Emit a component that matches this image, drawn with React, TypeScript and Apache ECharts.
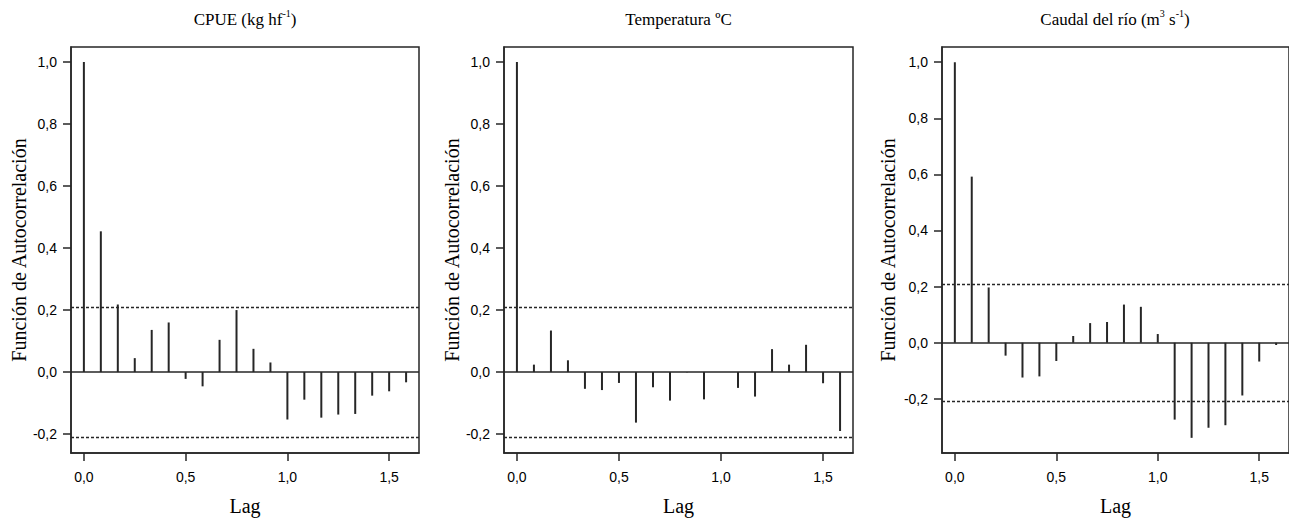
import React, { useEffect, useRef } from "react";
import * as echarts from "echarts";

const LAGS = [0, 0.0833, 0.1667, 0.25, 0.3333, 0.4167, 0.5, 0.5833, 0.6667, 0.75, 0.8333, 0.9167, 1.0, 1.0833, 1.1667, 1.25, 1.3333, 1.4167, 1.5, 1.5833];

const ACF_CPUE = [1.0, 0.454, 0.218, 0.045, 0.136, 0.16, -0.022, -0.046, 0.104, 0.2, 0.075, 0.031, -0.153, -0.089, -0.147, -0.137, -0.135, -0.076, -0.062, -0.033];
const ACF_TEMP = [1.0, 0.024, 0.134, 0.038, -0.054, -0.058, -0.035, -0.163, -0.049, -0.092, -0.001, -0.088, 0.0, -0.051, -0.079, 0.074, 0.024, 0.088, -0.036, -0.19];
const ACF_CAUDAL = [1.0, 0.592, 0.197, -0.046, -0.124, -0.12, -0.065, 0.024, 0.07, 0.074, 0.136, 0.128, 0.031, -0.274, -0.339, -0.303, -0.294, -0.188, -0.067, -0.008];

const CONF = 0.2125;
const X_TICKS = [0, 0.5, 1.0, 1.5];
const Y_TICKS = [-0.2, 0, 0.2, 0.4, 0.6, 0.8, 1.0];

const PANELS = [
  { values: ACF_CPUE, left: 71, width: 348, yMin: -0.261, yMax: 1.0485, title: ["CPUE (kg hf", "-1", ")"], nameGap: 42 },
  { values: ACF_TEMP, left: 504, width: 349, yMin: -0.261, yMax: 1.0485, title: ["Temperatura ºC"], nameGap: 40 },
  { values: ACF_CAUDAL, left: 942, width: 350, yMin: -0.393, yMax: 1.054, title: ["Caudal del río (m", "3", " s", "-1", ")"], nameGap: 44 },
];

const TOP = 47;
const HEIGHT = 407;
const INK = "#262626";
const SANS = "'Liberation Sans', Arial, sans-serif";
const SERIF = "'Liberation Serif', 'Times New Roman', serif";

const fmt = (v: number) => (Math.abs(v) < 1e-9 ? 0 : v).toFixed(1).replace(".", ",");

export default function App() {
  const ref = useRef<HTMLDivElement>(null);
  useEffect(() => {
    if (!ref.current) return;
    const chart = echarts.init(ref.current, undefined, { renderer: "svg" });

    const grids: any[] = [];
    const xAxes: any[] = [];
    const yAxes: any[] = [];
    const series: any[] = [];
    const graphics: any[] = [];

    PANELS.forEach((p, i) => {
      grids.push({
        left: p.left,
        top: TOP,
        width: p.width,
        height: HEIGHT,
        show: true,
        borderColor: INK,
        borderWidth: 1.5,
        backgroundColor: "transparent",
      });
      xAxes.push({
        type: "value",
        gridIndex: i,
        position: "bottom",
        min: -0.0633,
        max: 1.6467,
        name: "Lag",
        nameLocation: "middle",
        nameGap: 43,
        nameTextStyle: { fontFamily: SERIF, fontSize: 20, color: "#000" },
        axisLine: { show: true, onZero: false, lineStyle: { color: INK, width: 1.5 } },
        axisTick: { show: true, inside: false, length: 8, customValues: X_TICKS, lineStyle: { color: INK, width: 1.5 } },
        axisLabel: { customValues: X_TICKS, formatter: fmt, fontFamily: SANS, fontSize: 14, color: "#000", margin: 17 },
        splitLine: { show: false },
      });
      yAxes.push({
        type: "value",
        gridIndex: i,
        position: "left",
        min: p.yMin,
        max: p.yMax,
        name: "Función de Autocorrelación",
        nameLocation: "middle",
        nameGap: p.nameGap,
        nameTextStyle: { fontFamily: SERIF, fontSize: 20, color: "#000" },
        axisLine: { show: true, onZero: false, lineStyle: { color: INK, width: 1.5 } },
        axisTick: { show: true, inside: false, length: 8, customValues: Y_TICKS, lineStyle: { color: INK, width: 1.5 } },
        axisLabel: { customValues: Y_TICKS, formatter: fmt, fontFamily: SANS, fontSize: 14, color: "#000", margin: 14 },
        splitLine: { show: false },
      });
      series.push({
        type: "bar",
        xAxisIndex: i,
        yAxisIndex: i,
        barWidth: 2,
        itemStyle: { color: INK },
        data: LAGS.map((l, k) => [l, p.values[k]]),
        markLine: {
          silent: true,
          symbol: "none",
          label: { show: false },
          data: [
            { yAxis: 0, lineStyle: { type: "solid", color: INK, width: 1.5 } },
            { yAxis: CONF, lineStyle: { type: [3, 2], color: INK, width: 1.3 } },
            { yAxis: -CONF, lineStyle: { type: [3, 2], color: INK, width: 1.3 } },
          ],
        },
      });

      const parts = p.title;
      let text = "";
      parts.forEach((t, j) => {
        const isSup = j % 2 === 1;
        text += `{${isSup ? "s" : "a"}|${t}}`;
      });
      graphics.push({
        type: "text",
        x: p.left + p.width / 2 - (i === 2 ? 2 : 0),
        y: 18,
        style: {
          text,
          textAlign: "center",
          textVerticalAlign: "middle",
          rich: {
            a: { fontFamily: SERIF, fontSize: 17, lineHeight: 19, color: "#000", verticalAlign: "bottom" },
            s: { fontFamily: SERIF, fontSize: 10, lineHeight: 19, color: "#000", verticalAlign: "top", padding: [0, 0, 8, 0] },
          },
        },
      });
    });

    chart.setOption({
      animation: false,
      backgroundColor: "#ffffff",
      grid: grids,
      xAxis: xAxes,
      yAxis: yAxes,
      series,
      graphic: graphics,
    });
    return () => chart.dispose();
  }, []);

  return <div ref={ref} style={{ position: "fixed", left: 0, top: 0, width: 1289, height: 521 }} />;
}
